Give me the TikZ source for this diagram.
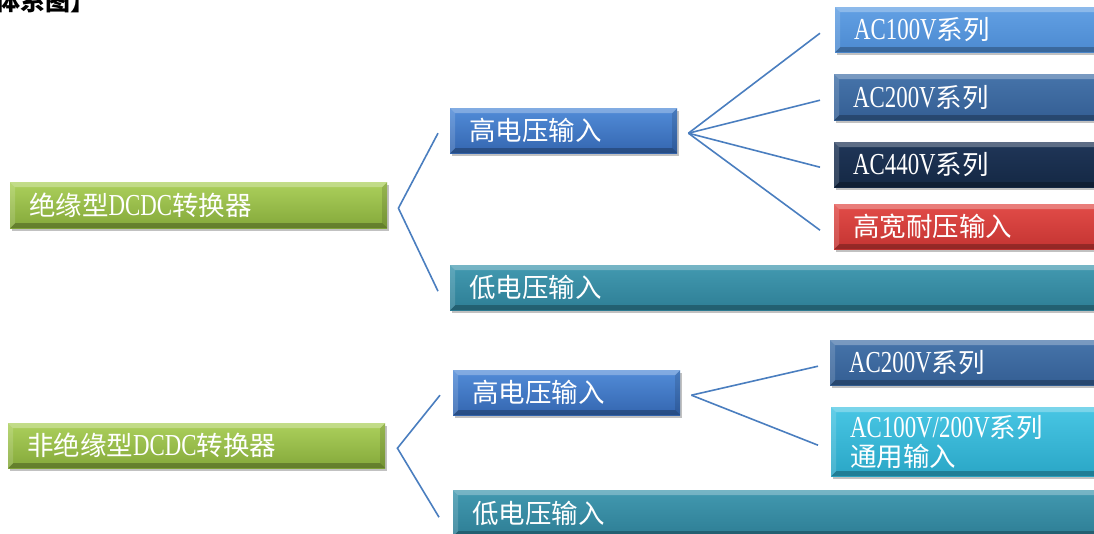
\documentclass[tikz,border=0pt]{standalone}
\usepackage{fontspec}
\setmainfont{Liberation Serif}[Scale=1.15,FakeStretch=0.75]
\newfontfamily\cjk{Noto Sans CJK SC}
\newcommand\cj[1]{{\cjk #1}}
\usetikzlibrary{shadows,calc}
\definecolor{linec}{HTML}{4A7EBF}
\tikzset{
  conn/.style={draw=linec, line width=1.6pt},
  bx/.style={anchor=north west, inner xsep=19pt, inner ysep=0pt, text=white, align=left,
    font=\fontsize{26.5}{30}\selectfont, draw=none,
    drop shadow={shadow xshift=2pt, shadow yshift=-3pt, opacity=0.35, fill=black!70},
    path picture={
      \fill[white,opacity=.28] (path picture bounding box.north west) -- (path picture bounding box.north east) -- ([shift={(-5pt,-5pt)}]path picture bounding box.north east) -- ([shift={(5pt,-5pt)}]path picture bounding box.north west) -- cycle;
      \fill[black,opacity=.25] (path picture bounding box.south west) -- (path picture bounding box.south east) -- ([shift={(-5pt,5pt)}]path picture bounding box.south east) -- ([shift={(5pt,5pt)}]path picture bounding box.south west) -- cycle;
      \fill[white,opacity=.15] (path picture bounding box.north west) -- ([shift={(5pt,-5pt)}]path picture bounding box.north west) -- ([shift={(5pt,5pt)}]path picture bounding box.south west) -- (path picture bounding box.south west) -- cycle;
      \fill[black,opacity=.12] (path picture bounding box.north east) -- ([shift={(-5pt,-5pt)}]path picture bounding box.north east) -- ([shift={(-5pt,5pt)}]path picture bounding box.south east) -- (path picture bounding box.south east) -- cycle;
    }},
  cgreen/.style={top color={rgb,255:red,172;green,208;blue,92}, bottom color={rgb,255:red,132;green,168;blue,58}},
  hvc/.style={top color={rgb,255:red,82;green,140;blue,216}, bottom color={rgb,255:red,52;green,102;blue,176}},
  lvc/.style={top color={rgb,255:red,66;green,153;blue,176}, bottom color={rgb,255:red,46;green,126;blue,149}},
  c100/.style={top color={rgb,255:red,98;green,160;blue,228}, bottom color={rgb,255:red,76;green,138;blue,208}},
  c200/.style={top color={rgb,255:red,70;green,116;blue,170}, bottom color={rgb,255:red,52;green,94;blue,147}},
  c440/.style={top color={rgb,255:red,32;green,54;blue,88}, bottom color={rgb,255:red,20;green,40;blue,68}},
  cred/.style={top color={rgb,255:red,226;green,76;blue,72}, bottom color={rgb,255:red,196;green,52;blue,50}},
  ccyan/.style={top color={rgb,255:red,72;green,198;blue,228}, bottom color={rgb,255:red,42;green,166;blue,198}},
}
\begin{document}
\begin{tikzpicture}[x=1pt,y=-1pt]
\useasboundingbox (0,0) rectangle (1094,533);
\clip (0,0) rectangle (1094,533);
\node[anchor=base west, font=\cjk\bfseries\fontsize{25}{30}\selectfont] (title) at (-9,10) {体系图】};
% top tree
\node[bx, cgreen, minimum height=46pt, text width=339pt] (g1) at (10,182) {\cj{绝缘型}DCDC\cj{转换器}};
\node[bx, hvc, minimum height=45pt, text width=189pt] (hv1) at (450,108) {\cj{高电压输入}};
\node[bx, lvc, minimum height=45pt, text width=622pt] (lv1) at (450,265) {\cj{低电压输入}};
\node[bx, c100, minimum height=45pt, text width=232pt] (a100) at (835,7) {AC100V\cj{系列}};
\node[bx, c200, minimum height=46pt, text width=232pt] (a200) at (834,74) {AC200V\cj{系列}};
\node[bx, c440, minimum height=45pt, text width=232pt] (a440) at (834,142) {AC440V\cj{系列}};
\node[bx, cred, minimum height=45pt, text width=232pt] (hw) at (834,204) {\cj{高宽耐压输入}};
% bottom tree
\node[bx, cgreen, minimum height=45pt, text width=339pt] (g2) at (8,423) {\cj{非绝缘型}DCDC\cj{转换器}};
\node[bx, hvc, minimum height=45pt, text width=189pt] (hv2) at (453,370) {\cj{高电压输入}};
\node[bx, lvc, minimum height=46pt, text width=622pt] (lv2) at (453,490) {\cj{低电压输入}};
\node[bx, c200, minimum height=45pt, text width=236pt] (b200) at (830,340) {AC200V\cj{系列}};
\node[bx, ccyan, minimum height=69pt, text width=236pt, font=\fontsize{26.5}{29}\selectfont] (buni) at (831,407) {AC100V/200V\cj{系列}\\\cj{通用输入}};
% connectors
\coordinate (p1) at ($(g1.east)+(11,3)$);
\draw[conn] ($(hv1.west)+(-12,2.5)$) -- (p1) -- ($(lv1.west)+(-12,3.5)$);
\coordinate (p2) at ($(hv1.east)+(11,2.5)$);
\draw[conn] (p2) -- ($(a100.west)+(-15,3.5)$);
\draw[conn] (p2) -- ($(a200.west)+(-14,3)$);
\draw[conn] (p2) -- ($(a440.west)+(-14,2.5)$);
\draw[conn] (p2) -- ($(hw.west)+(-14,3.5)$);
\coordinate (p3) at ($(g2.east)+(12,2.5)$);
\draw[conn] ($(hv2.west)+(-13,2.5)$) -- (p3) -- ($(lv2.west)+(-14,4)$);
\coordinate (p4) at ($(hv2.east)+(11,2.5)$);
\draw[conn] (p4) -- ($(b200.west)+(-12,3.5)$);
\draw[conn] (p4) -- ($(buni.west)+(-13,3.5)$);
\end{tikzpicture}
\end{document}
